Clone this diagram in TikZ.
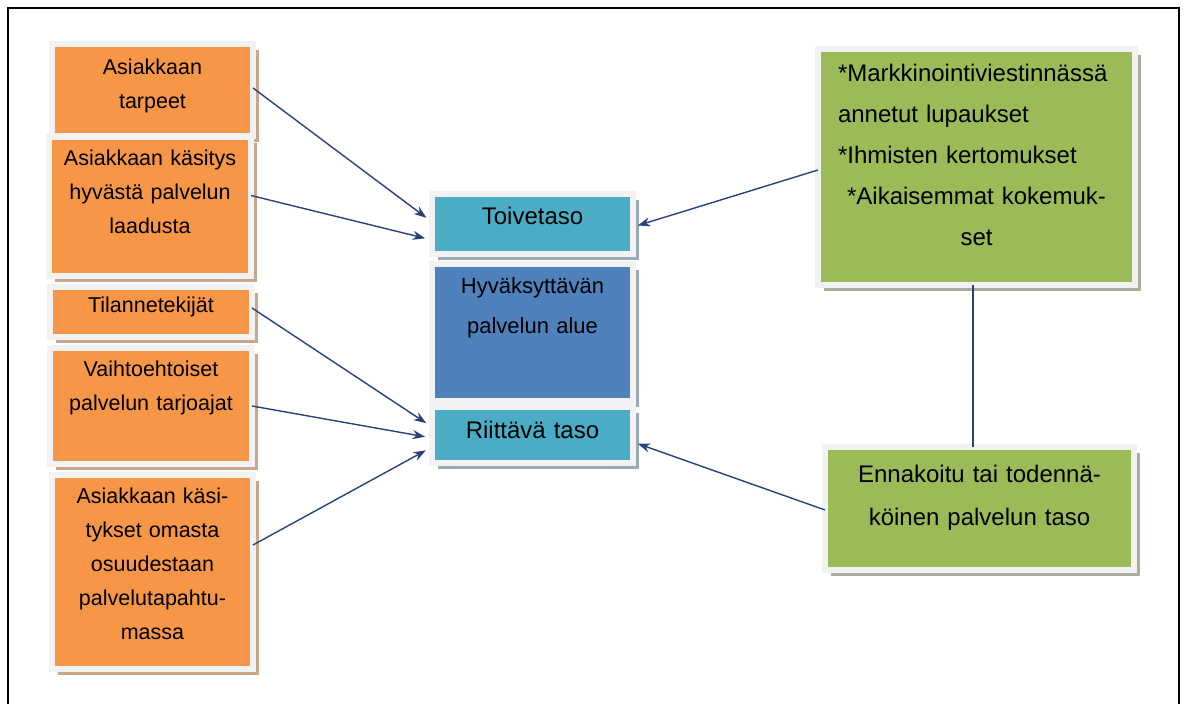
\documentclass[tikz,border=0pt]{standalone}
\usepackage{fontspec}
\setmainfont{Liberation Sans}
\usetikzlibrary{arrows.meta,shadows}
\definecolor{qoranssi}{HTML}{F79646}
\definecolor{qturkoosi}{HTML}{4BACC6}
\definecolor{qsininen}{HTML}{4F81BD}
\definecolor{qvihrea}{HTML}{9BBB59}
\definecolor{qkehys}{HTML}{F2F2F2}
\definecolor{qnuoli}{HTML}{27427E}
\definecolor{qvarjo}{HTML}{C9A78C}
\definecolor{qvarjosin}{HTML}{98AAB4}
\definecolor{qvarjovih}{HTML}{A9AF9C}

\begin{document}
\begin{tikzpicture}[x=0.5pt,y=-0.5pt,
  kehys/.style={rectangle,draw=qkehys,line width=3pt,inner sep=0pt,outer sep=0pt,
    anchor=north west,align=center},
  tekija/.style={kehys,fill=qoranssi,font=\fontsize{10.75}{17}\selectfont,
    drop shadow={shadow xshift=3pt,shadow yshift=-3pt,fill=qvarjo,opacity=1}},
  taso/.style={kehys,fill=qturkoosi,font=\fontsize{12}{20}\selectfont,
    drop shadow={shadow xshift=3pt,shadow yshift=-3pt,fill=qvarjosin,opacity=1}},
  alue/.style={kehys,fill=qsininen,font=\fontsize{11}{20}\selectfont,
    drop shadow={shadow xshift=3pt,shadow yshift=-3pt,fill=qvarjosin,opacity=1}},
  odotus/.style={kehys,fill=qvihrea,font=\fontsize{12}{20.5}\selectfont,
    drop shadow={shadow xshift=3pt,shadow yshift=-3pt,fill=qvarjovih,opacity=1}},
  arr/.style={-{Stealth[length=2.2mm,width=1.6mm]},qnuoli,line width=0.7pt},
  yhd/.style={qnuoli,line width=0.7pt}]
  \useasboundingbox (0,0) rectangle (1186,704);
  \draw[line width=1pt] (8,704) -- (8,8) -- (1179,8) -- (1179,704);
  % vasen sarake
  \node[tekija,text width=100.5pt,text height=15.5pt,text depth=30.5pt] (a) at (52,44)
    {Asiakkaan\\tarpeet};
  \node[tekija,text width=101pt,text height=14.5pt,text depth=55pt] (b) at (49,137)
    {Asiakkaan käsitys\\hyvästä palvelun\\laadusta};
  \node[tekija,text width=101pt,text height=13pt,text depth=12pt] (c) at (50,287)
    {Tilannetekijät};
  \node[tekija,text width=101pt,text height=14.5pt,text depth=43.5pt] (d) at (50,348)
    {Vaihtoehtoiset\\palvelun tarjoajat};
  \node[tekija,text width=100.5pt,text height=14pt,text depth=83pt] (e) at (52,475)
    {Asiakkaan käsi-\\tykset omasta\\osuudestaan\\palvelutapahtu-\\massa};
  % keskimmäinen sarake
  \node[taso,text width=100.5pt,text height=15.5pt,text depth=14.5pt] (t) at (432,194)
    {Toivetaso};
  \node[alue,text width=100.5pt,text height=15pt,text depth=53.5pt] (h) at (432,264)
    {Hyväksyttävän\\palvelun alue};
  \node[taso,text width=100.5pt,text height=16pt,text depth=12pt] (r) at (432,407)
    {Riittävä taso};
  % oikea sarake
  \node[odotus,align=left,inner xsep=10pt,text width=138.5pt,text height=16.5pt,
    text depth=101.5pt] (g1) at (818,49)
    {*Markkinointiviestinnässä\\annetut lupaukset\\{}*Ihmisten kertomukset\par
     {\centering *Aikaisemmat kokemuk-\\set\par}};
  \node[odotus,font=\fontsize{12}{21.5}\selectfont,text width=154.5pt,text height=17.5pt,
    text depth=44pt] (g2) at (825,447)
    {Ennakoitu tai todennä-\\köinen palvelun taso};
  % nuolet
  \draw[arr,shorten >=3.5pt] ([yshift=1pt]a.east) -- ([yshift=1pt]t.west);
  \draw[arr,shorten >=3.5pt] ([yshift=5.5pt]b.east) -- ([yshift=-8pt]t.west);
  \draw[arr,shorten >=3.5pt] ([yshift=2pt]c.east) -- ([yshift=4pt]r.west);
  \draw[arr,shorten >=3.5pt] (d.east) -- ([yshift=-1.5pt]r.west);
  \draw[arr,shorten >=3.5pt] ([yshift=13.5pt]e.east) -- ([yshift=-6pt]r.west);
  \draw[arr,shorten >=2.5pt] ([yshift=-1.5pt]g1.west) -- ([yshift=-1.5pt]t.east);
  \draw[arr,shorten >=2.5pt] ([yshift=-0.75pt]g2.west) -- ([yshift=-3.5pt]r.east);
  \draw[yhd] ([xshift=-1.75pt]g1.south) -- ([xshift=-1.75pt]g1.south |- g2.north);
\end{tikzpicture}
\end{document}
